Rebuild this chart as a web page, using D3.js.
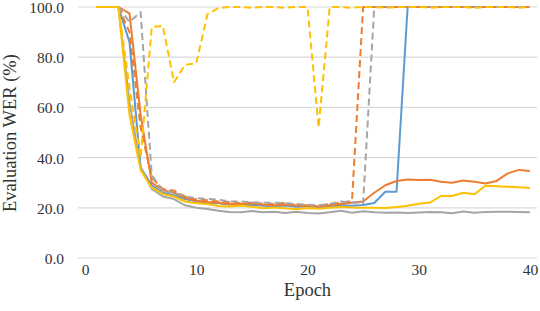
<!DOCTYPE html>
<html>
<head>
<meta charset="utf-8">
<script src="https://cdn.jsdelivr.net/npm/d3@7"></script>
<style>
  body { margin: 0; background: #fff; }
  svg text { font-family: "Liberation Serif", "Times New Roman", serif; fill: #333; }
</style>
</head>
<body>
<svg id="chart"></svg>
<script>
// epochs 1..40
var epochs = d3.range(1, 41);

var blueSolid = [100, 100, 100, 86, 36, 29, 26, 25, 23.5, 22.5,
    22, 21.8, 21.3, 21.0, 21.2, 20.8, 20.6, 20.9, 20.4, 20.6,
    20.2, 20.6, 20.9, 20.8, 21.1, 21.9, 26.4, 26.4, 100, 100,
    100, 100, 100, 100, 100, 100, 100, 100, 100, 100];
var orangeSolid = [100, 100, 100, 97.5, 57, 30, 27, 26, 24, 22.8,
    22.3, 22, 21.5, 21.5, 21.8, 21.2, 21, 21.3, 20.8, 20.9,
    20.5, 21, 21.5, 22, 22.5, 26, 29, 30.7, 31.3, 31.1,
    31.2, 30.4, 30.0, 30.9, 30.4, 29.7, 30.7, 33.7, 35.1, 34.7];
var graySolid = [100, 100, 100, 62, 36, 27.5, 24.5, 23.5, 21, 20,
    19.5, 18.8, 18.3, 18.2, 18.7, 18.2, 18.4, 17.9, 18.4, 17.9,
    17.7, 18.2, 18.8, 18.0, 18.6, 18.2, 18.0, 18.1, 17.9, 18.1,
    18.3, 18.2, 17.8, 18.5, 18.0, 18.3, 18.4, 18.4, 18.3, 18.2];
var yellowSolid = [100, 100, 100, 57, 35, 28, 25.5, 24.5, 22.5, 21.8,
    21.5, 20.7, 20.5, 20.9, 20.4, 19.8, 20.1, 19.8, 19.4, 19.9,
    19.6, 20.0, 20.3, 20.1, 20.0, 20.0, 19.9, 20.3, 20.8, 21.6,
    22.1, 24.7, 24.7, 26.0, 25.4, 28.8, 28.6, 28.4, 28.2, 27.9];
var orangeDashed = [100, 100, 100, 90, 52, 32, 27.5, 26.8, 24.5, 23.3,
    23, 22.5, 22.3, 21.8, 22.0, 21.6, 21.5, 22.0, 21.0, 21.0,
    20.7, 21.5, 22.0, 22.8, 100, 100, 100, 100, 100, 100,
    100, 100, 100, 100, 100, 100, 100, 100, 100, 100];
var grayDashed = [100, 100, 100, 94, 98, 33, 26.5, 26, 24.5, 23.8,
    23.5, 23.2, 22.5, 22.5, 22.2, 22.0, 22.0, 21.8, 21.5, 21.2,
    21.0, 21.5, 22.5, 22.2, 21.8, 100, 100, 100, 100, 100,
    100, 100, 100, 100, 100, 100, 100, 100, 100, 100];
var yellowDashed = [100, 100, 100, 68, 40, 92, 92.5, 70, 77, 77.5,
    97, 99.6, 100, 100, 99.7, 100, 100, 99.7, 100, 100,
    52, 100, 100, 99.7, 100, 100, 99.7, 100, 100, 100,
    99.7, 100, 100, 100, 99.6, 100, 100, 100, 99.7, 100];

var xTicks = [0, 10, 20, 30, 40];
var yTicks = [0, 20, 40, 60, 80, 100];

var series = [
    {values: blueSolid, color: "#5B9BD5", dash: null},
    {values: orangeSolid, color: "#ED7D31", dash: null},
    {values: graySolid, color: "#A5A5A5", dash: null},
    {values: yellowSolid, color: "#FFC000", dash: null},
    {values: orangeDashed, color: "#ED7D31", dash: "7,4"},
    {values: grayDashed, color: "#A5A5A5", dash: "7,4"},
    {values: yellowDashed, color: "#FFC000", dash: "7,4"}
];

var serif = "'Liberation Serif', 'Times New Roman', serif";

var margin = {top: 7, right: 10, bottom: 53, left: 85},
    width = 540 - margin.left - margin.right,
    height = 311 - margin.top - margin.bottom;

var svg = d3.select("#chart")
    .attr("width", 540)
    .attr("height", 311)
    .append("g")
    .attr("transform", "translate(" + margin.left + "," + margin.top + ")");

var x = d3.scaleLinear().domain([0, 40]).range([0, 445]);
var y = d3.scaleLinear().domain([0, 100]).range([251, 0]);

// gridlines
svg.append("g")
    .selectAll("line")
    .data(yTicks)
    .enter().append("line")
    .attr("x1", x(0) - 7)
    .attr("x2", x(40) + 7)
    .attr("y1", function(d) { return y(d); })
    .attr("y2", function(d) { return y(d); })
    .attr("stroke", "#d9d9d9")
    .attr("stroke-width", 1.2);

// y tick labels
var yAxis = svg.append("g")
    .call(d3.axisLeft(y).tickValues(yTicks).tickSize(0).tickPadding(21).tickFormat(d3.format(".1f")));
yAxis.select(".domain").remove();
yAxis.selectAll("text")
    .attr("font-family", serif)
    .style("font-family", serif)
    .style("font-size", "15.5px")
    .attr("dy", "0.36em");

// x tick labels
var xAxis = svg.append("g")
    .attr("transform", "translate(0," + y(0) + ")")
    .call(d3.axisBottom(x).tickValues(xTicks).tickSize(0).tickPadding(6).tickFormat(d3.format("d")));
xAxis.select(".domain").remove();
xAxis.selectAll("text")
    .attr("font-family", serif)
    .style("font-family", serif)
    .style("font-size", "15.5px");

var line = d3.line()
    .x(function(d, i) { return x(epochs[i]); })
    .y(function(d) { return y(d); });

series.forEach(function(s) {
    svg.append("path")
        .datum(s.values)
        .attr("fill", "none")
        .attr("stroke", s.color)
        .attr("stroke-width", 2)
        .attr("stroke-linejoin", "round")
        .attr("stroke-dasharray", s.dash)
        .attr("d", line);
});

// axis titles
svg.append("text")
    .attr("x", x(20))
    .attr("y", 292 - margin.top)
    .attr("text-anchor", "middle")
    .attr("dominant-baseline", "middle")
    .style("font-size", "18.5px")
    .text("Epoch");

svg.append("text")
    .attr("transform", "translate(" + (12 - margin.left) + "," + (133 - margin.top) + ") rotate(-90)")
    .attr("text-anchor", "middle")
    .attr("dominant-baseline", "middle")
    .style("font-size", "18.5px")
    .text("Evaluation WER (%)");
</script>
</body>
</html>
